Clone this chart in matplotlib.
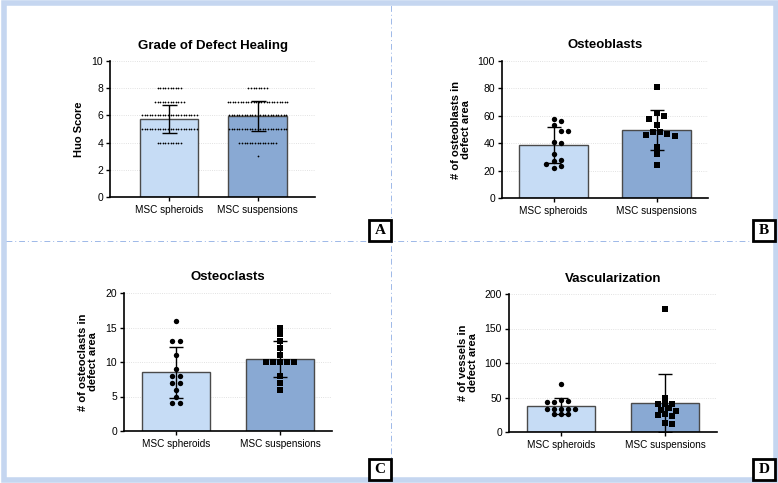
import numpy as np
import matplotlib
matplotlib.use('Agg')
import matplotlib.pyplot as plt
from matplotlib.patches import Rectangle
from matplotlib.lines import Line2D

plt.rcParams['font.family'] = ['Liberation Sans', 'DejaVu Sans']

groups = ['MSC spheroids', 'MSC suspensions']

# A - Huo score (many overlapping scores)
huo_sph = [8] * 10 + [7] * 12 + [6] * 22 + [5] * 22 + [4] * 10
huo_sus = [8] * 8 + [7] * 24 + [6] * 23 + [5] * 23 + [4] * 15 + [3]
huo_mean = [5.72, 5.95]
huo_sd = [1.05, 1.1]

# B - osteoblasts
obl_sph = [58, 56, 53, 49, 49, 41, 40, 32, 28, 27, 25, 23, 22]
obl_sus = [81, 62, 60, 58, 53, 48, 48, 47, 46, 45, 37, 32, 24]
obl_mean = [38.6, 49.3]
obl_sd = [13.3, 14.6]

# C - osteoclasts
ocl_sph = [16, 13, 13, 11, 9, 8, 8, 7, 7, 6, 5, 4, 4]
ocl_sus = [15, 14, 13, 12, 11, 10, 10, 10, 10, 10, 8, 7, 6]
ocl_mean = [8.5, 10.4]
ocl_sd = [3.7, 2.6]

# D - vessels
ves_sph = [70, 46, 45, 43, 43, 34, 34, 34, 34, 34, 26, 26, 26]
ves_sus = [178, 50, 41, 41, 41, 35, 32, 30, 26, 25, 23, 13, 12]
ves_mean = [38.0, 42.0]
ves_sd = [11.5, 42.5]

LIGHT = '#c6dcf5'
DARK = '#89a9d3'
W, H = 778, 483

fig = plt.figure(figsize=(W / 100, H / 100), dpi=100)


def ax_px(x0, x1, y_top, y_bot):
    return fig.add_axes([x0 / W, 1 - y_bot / H, (x1 - x0) / W, (y_bot - y_top) / H])


def swarm(ax, xc, vals, d, tight):
    # simple beeswarm in pixel space, ties centred
    tr = ax.transData
    inv = tr.inverted()
    placed = []
    xs, ys = [], []
    uniq = sorted(set(vals), reverse=True)
    cands = [0]
    for k in range(1, 80):
        cands += [k * d / 2, -k * d / 2]
    for v in uniq:
        n = vals.count(v)
        cx, cy = tr.transform((xc, v))
        offs = [(i - (n - 1) / 2) * d for i in range(n)]
        for s in cands:
            pts = [(cx + o + s, cy) for o in offs]
            ok = all(np.hypot(p[0] - q[0], p[1] - q[1]) >= d * tight for p in pts for q in placed)
            if ok:
                break
        placed += pts
        for p in pts:
            xd, yd = inv.transform(p)
            xs.append(xd)
            ys.append(yd)
    return xs, ys


def panel(box, xlim, width, ylim, yticks, title, ylabel, data, mean, sd, marks, ms, d, capsize, tight=0.95):
    ax = ax_px(*box)
    ax.set_xlim(*xlim)
    ax.set_ylim(*ylim)
    ax.set_yticks(yticks)
    ax.set_xticks([0, 1])
    ax.set_xticklabels(groups, fontsize=7.2)
    ax.tick_params(axis='y', labelsize=7.5, length=3, width=1, pad=2)
    ax.tick_params(axis='x', length=3, width=1, pad=3)
    for s in ['top', 'right']:
        ax.spines[s].set_visible(False)
    for s in ['left', 'bottom']:
        ax.spines[s].set_linewidth(1.2)
    ax.grid(axis='y', linestyle=':', color='#d8d8d8', linewidth=0.6)
    ax.set_axisbelow(True)
    ax.bar([0, 1], mean, width=width, color=[LIGHT, DARK], edgecolor='#4a4a4a', linewidth=1, zorder=2)
    ax.errorbar([0, 1], mean, yerr=sd, fmt='none', ecolor='black', elinewidth=1,
                capsize=capsize, capthick=1, zorder=3)
    for i, vals in enumerate(data):
        xs, ys = swarm(ax, i, vals, d, tight)
        ax.scatter(xs, ys, s=ms, marker=marks[i], color='black', linewidths=0, zorder=4)
    ax.set_title(title, fontsize=9.5, fontweight='bold', pad=9)
    ax.set_ylabel(ylabel, fontsize=8, fontweight='bold', linespacing=1.0, labelpad=5)
    return ax


panel((110, 315, 61, 197), (-0.67, 1.65), 0.66, (0, 10), [0, 2, 4, 6, 8, 10],
      'Grade of Defect Healing', 'Huo Score', [huo_sph, huo_sus], huo_mean, huo_sd,
      ['o', 'o'], 1.6, 2.6, 5.4)
panel((502, 708, 61, 198), (-0.5, 1.5), 0.67, (0, 100), [0, 20, 40, 60, 80, 100],
      'Osteoblasts', '# of osteoblasts in\ndefect area', [obl_sph, obl_sus], obl_mean, obl_sd,
      ['o', 's'], 15, 7.2, 4.7)
panel((124, 332, 293, 431), (-0.5, 1.5), 0.65, (0, 20), [0, 5, 10, 15, 20],
      'Osteoclasts', '# of osteoclasts in\ndefect area', [ocl_sph, ocl_sus], ocl_mean, ocl_sd,
      ['o', 's'], 15, 7.2, 4.7)
panel((509, 717, 294, 432), (-0.5, 1.5), 0.66, (0, 200), [0, 50, 100, 150, 200],
      'Vascularization', '# of vessels in\ndefect area', [ves_sph, ves_sus], ves_mean, ves_sd,
      ['o', 's'], 15, 7.2, 4.7, tight=0.75)

# frame and dividers
fig.patches.append(Rectangle((4 / W, 3 / H), (W - 6) / W, (H - 6) / H, transform=fig.transFigure,
                             fill=False, edgecolor='#c5d6f0', linewidth=4))
fig.lines.append(Line2D([391 / W, 391 / W], [4 / H, 1 - 4 / H], transform=fig.transFigure,
                        color='#9db8e8', linewidth=0.7, linestyle=(0, (6, 3, 1, 3))))
fig.lines.append(Line2D([6 / W, 1 - 3 / W], [1 - 241 / H, 1 - 241 / H], transform=fig.transFigure,
                        color='#9db8e8', linewidth=0.7, linestyle=(0, (6, 3, 1, 3))))

for lab, x0, y0 in [('A', 369, 220), ('B', 753, 220), ('C', 369, 459), ('D', 753, 459)]:
    fig.patches.append(Rectangle((x0 / W, 1 - (y0 + 21) / H), 22 / W, 21 / H, transform=fig.transFigure,
                                 facecolor='white', edgecolor='black', linewidth=2, zorder=5))
    fig.text((x0 + 11) / W, 1 - (y0 + 10.5) / H, lab, ha='center', va='center', fontsize=11,
             fontweight='bold', family=['Liberation Serif', 'DejaVu Serif'], zorder=6)

fig.savefig('out.png', dpi=100)
